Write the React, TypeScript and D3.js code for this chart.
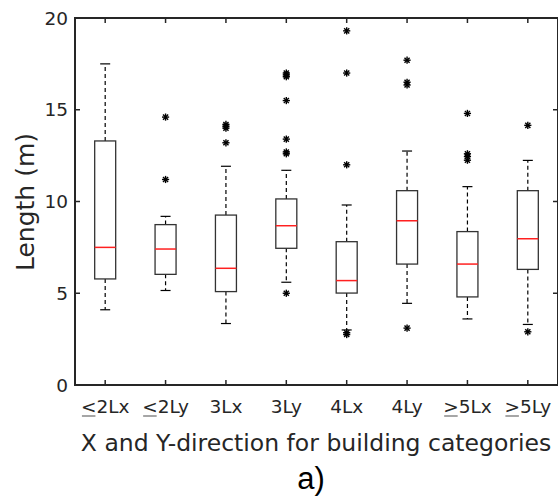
import React, { useEffect, useRef } from "react";
import * as d3 from "d3";

// category labels; "le"/"ge" prefix drawn as "<"/">" with a grey underline
const categories = ["2Lx", "2Ly", "3Lx", "3Ly", "4Lx", "4Ly", "5Lx", "5Ly"];
const prefixes = ["<", "<", "", "", "", "", ">", ">"];

const whiskerLow = [4.1, 5.15, 3.35, 5.6, 3.0, 4.45, 3.6, 3.3];
const q1 = [5.78, 6.03, 5.09, 7.45, 5.01, 6.59, 4.8, 6.3];
const median = [7.5, 7.41, 6.36, 8.68, 5.69, 8.95, 6.59, 7.97];
const q3 = [13.3, 8.74, 9.26, 10.14, 7.81, 10.59, 8.36, 10.59];
const whiskerHigh = [17.5, 9.19, 11.92, 11.7, 9.81, 12.75, 10.81, 12.24];

const outliers = [
  [],
  [14.6, 11.2],
  [14.2, 14.1, 14.0, 13.2],
  [17.0, 16.9, 16.8, 15.5, 13.4, 12.7, 12.6, 5.0],
  [19.3, 17.0, 12.0, 2.85, 2.75],
  [17.7, 16.5, 16.35, 3.1],
  [14.8, 12.6, 12.45, 12.25],
  [14.15, 2.9],
];

const yTicks = [0, 5, 10, 15, 20];

const W = 558;
const H = 496;

const App: React.FC = () => {
  const svgRef = useRef<SVGSVGElement>(null);

  useEffect(() => {
    if (!svgRef.current) return;
    const svg = d3.select(svgRef.current);
    svg.selectAll("*").remove();

    const left = 75;
    const right = 558;
    const top = 18;
    const bottom = 385;
    const font = "DejaVu Sans, sans-serif";
    const axisColor = "#262626";

    const x = d3.scaleLinear().domain([0.5, 8.5]).range([left, right]);
    const y = d3.scaleLinear().domain([0, 20]).range([bottom, top]);
    const boxW = 21;
    const capW = 10;

    const g = svg.append("g");

    categories.forEach((c, i) => {
      const cx = x(i + 1);
      // whiskers
      g.append("line")
        .attr("x1", cx).attr("x2", cx)
        .attr("y1", y(q3[i])).attr("y2", y(whiskerHigh[i]))
        .attr("stroke", "#000").attr("stroke-width", 1.2)
        .attr("stroke-dasharray", "4,3");
      g.append("line")
        .attr("x1", cx).attr("x2", cx)
        .attr("y1", y(q1[i])).attr("y2", y(whiskerLow[i]))
        .attr("stroke", "#000").attr("stroke-width", 1.2)
        .attr("stroke-dasharray", "4,3");
      [whiskerHigh[i], whiskerLow[i]].forEach((v) => {
        g.append("line")
          .attr("x1", cx - capW / 2).attr("x2", cx + capW / 2)
          .attr("y1", y(v)).attr("y2", y(v))
          .attr("stroke", "#000").attr("stroke-width", 1.2);
      });
      // box
      g.append("rect")
        .attr("x", cx - boxW / 2)
        .attr("y", y(q3[i]))
        .attr("width", boxW)
        .attr("height", y(q1[i]) - y(q3[i]))
        .attr("fill", "none")
        .attr("stroke", "#333")
        .attr("stroke-width", 1.3);
      // median
      g.append("line")
        .attr("x1", cx - boxW / 2).attr("x2", cx + boxW / 2)
        .attr("y1", y(median[i])).attr("y2", y(median[i]))
        .attr("stroke", "#ff2020").attr("stroke-width", 1.5);
      // outliers as asterisks
      outliers[i].forEach((v) => {
        const py = y(v);
        const r = 3.6;
        const star = g.append("g").attr("transform", `translate(${cx},${py})`);
        [0, 45, 90, 135].forEach((a) => {
          const rad = (a * Math.PI) / 180;
          star.append("line")
            .attr("x1", -r * Math.cos(rad)).attr("y1", -r * Math.sin(rad))
            .attr("x2", r * Math.cos(rad)).attr("y2", r * Math.sin(rad))
            .attr("stroke", "#000").attr("stroke-width", 1.4);
        });
      });
    });

    // axes frame
    g.append("rect")
      .attr("x", left).attr("y", top)
      .attr("width", right - left).attr("height", bottom - top)
      .attr("fill", "none").attr("stroke", axisColor).attr("stroke-width", 2);

    // y ticks (inside, both sides)
    yTicks.forEach((t) => {
      g.append("line")
        .attr("x1", left).attr("x2", left + 5)
        .attr("y1", y(t)).attr("y2", y(t))
        .attr("stroke", axisColor).attr("stroke-width", 1.5);
      g.append("line")
        .attr("x1", right - 5).attr("x2", right)
        .attr("y1", y(t)).attr("y2", y(t))
        .attr("stroke", axisColor).attr("stroke-width", 1.5);
      g.append("text")
        .attr("x", left - 7).attr("y", y(t) + 6.5)
        .attr("text-anchor", "end")
        .attr("font-family", font).attr("font-size", 18.5)
        .attr("fill", axisColor)
        .text(t);
    });

    // x ticks (inside, top and bottom) + labels
    categories.forEach((c, i) => {
      const cx = x(i + 1);
      g.append("line")
        .attr("x1", cx).attr("x2", cx)
        .attr("y1", bottom).attr("y2", bottom - 5)
        .attr("stroke", axisColor).attr("stroke-width", 1.5);
      g.append("line")
        .attr("x1", cx).attr("x2", cx)
        .attr("y1", top).attr("y2", top + 5)
        .attr("stroke", axisColor).attr("stroke-width", 1.5);
      const label = g.append("text")
        .attr("x", cx).attr("y", 413)
        .attr("text-anchor", "middle")
        .attr("font-family", font).attr("font-size", 18.5)
        .attr("fill", axisColor);
      if (prefixes[i]) {
        label.append("tspan").attr("class", "pre").text(prefixes[i]);
      }
      label.append("tspan").text(c);
      if (prefixes[i]) {
        const node = label.select<SVGTSpanElement>(".pre").node();
        if (node) {
          const bb = node.getBBox();
          g.append("line")
            .attr("x1", bb.x + 1).attr("x2", bb.x + bb.width - 1)
            .attr("y1", 416).attr("y2", 416)
            .attr("stroke", "#888").attr("stroke-width", 1.5);
        }
      }
    });

    // axis titles
    g.append("text")
      .attr("x", 316).attr("y", 451)
      .attr("text-anchor", "middle")
      .attr("font-family", font).attr("font-size", 23.5)
      .attr("fill", axisColor)
      .text("X and Y-direction for building categories");

    g.append("text")
      .attr("transform", `translate(34,202) rotate(-90)`)
      .attr("text-anchor", "middle")
      .attr("font-family", font).attr("font-size", 25)
      .attr("fill", axisColor)
      .text("Length (m)");

    g.append("text")
      .attr("x", 311).attr("y", 489)
      .attr("text-anchor", "middle")
      .attr("font-family", "Liberation Sans, Arial, sans-serif").attr("font-size", 31)
      .attr("fill", "#000")
      .text("a)");
  }, []);

  return (
    <svg
      ref={svgRef}
      width={W}
      height={H}
      style={{ position: "absolute", left: 0, top: 0, background: "#fff" }}
    />
  );
};

export default App;
